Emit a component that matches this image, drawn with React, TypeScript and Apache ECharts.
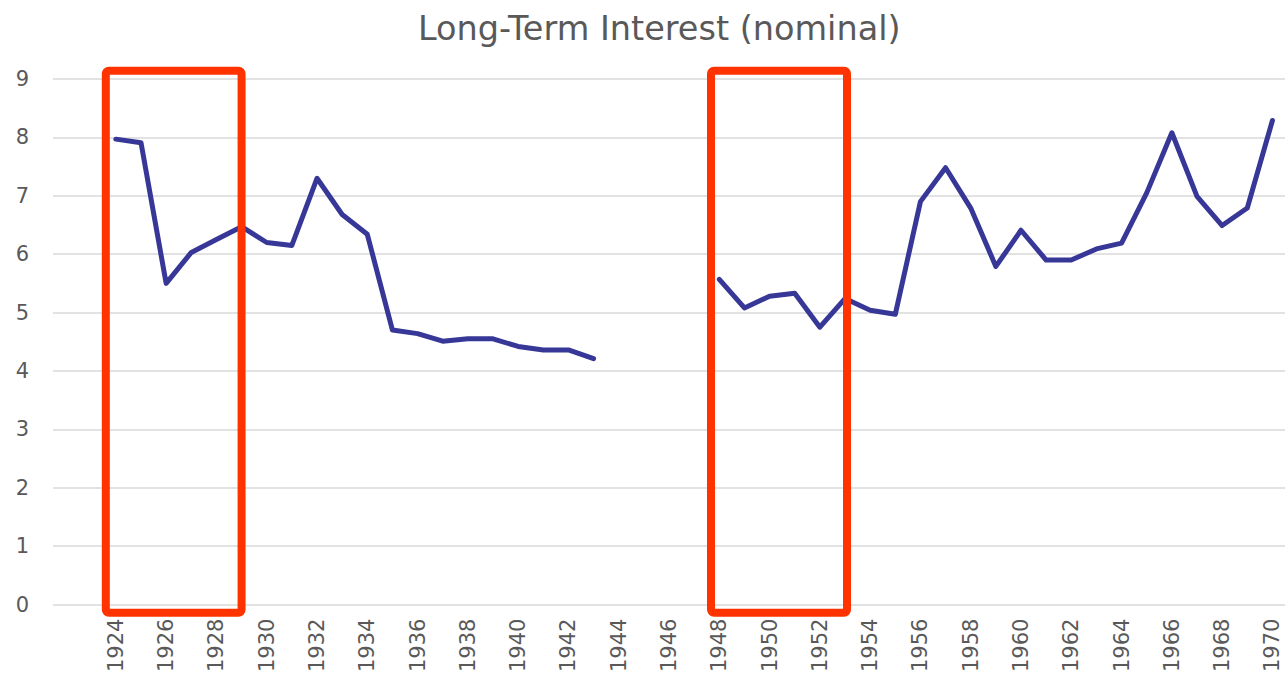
import React, { useEffect, useRef } from "react";
import * as echarts from "echarts";

const title = "Long-Term Interest (nominal)";

const years: number[] = [];
for (let y = 1924; y <= 1970; y++) years.push(y);

const rates: (number | null)[] = [
  7.97, 7.91, 5.5, 6.03, 6.25, 6.47, 6.2, 6.15, 7.3, 6.68, // 1924-1933
  6.34, 4.7, 4.64, 4.51, 4.55, 4.55, 4.42, 4.36, 4.36, 4.21, // 1934-1943
  null, null, null, null, // 1944-1947
  5.57, 5.08, 5.28, 5.33, 4.75, 5.24, 5.04, 4.97, 6.9, 7.48, // 1948-1957
  6.79, 5.79, 6.41, 5.9, 5.9, 6.09, 6.19, 7.05, 8.08, 6.99, // 1958-1967
  6.49, 6.79, 8.29, // 1968-1970
];

const xTickLabels: number[] = [];
for (let y = 1924; y <= 1970; y += 2) xTickLabels.push(y);

const yTicks = [0, 1, 2, 3, 4, 5, 6, 7, 8, 9];

// highlighted periods [fromYear, toYear], with vertical extent [low, high]
const highlightRanges: [number, number][] = [
  [1923.6, 1929.0],
  [1947.67, 1953.08],
];
const highlightY: [number, number] = [-0.14, 9.14];

export default function App() {
  const ref = useRef<HTMLDivElement>(null);
  useEffect(() => {
    if (!ref.current) return;
    const chart = echarts.init(ref.current, undefined, { renderer: "svg" });
    const font = "'DejaVu Sans', Verdana, sans-serif";
    chart.setOption({
      animation: false,
      backgroundColor: "#ffffff",
      title: {
        text: title,
        left: 413,
        top: 6,
        textStyle: {
          fontFamily: font,
          fontSize: 33.5,
          fontWeight: "normal",
          color: "#595959",
        },
      },
      grid: { left: 53, right: 0, top: 79, bottom: 69, containLabel: false },
      xAxis: {
        type: "value",
        min: 1921.5,
        max: 1970.5,
        axisLine: { show: false },
        axisTick: { show: false },
        splitLine: { show: false },
        axisLabel: {
          customValues: xTickLabels,
          rotate: 90,
          margin: 14,
          fontFamily: font,
          fontSize: 21,
          color: "#595959",
          formatter: (v: number) => String(v),
        },
      },
      yAxis: {
        type: "value",
        min: yTicks[0],
        max: yTicks[yTicks.length - 1],
        interval: 1,
        axisLine: { show: false },
        axisTick: { show: false },
        splitLine: { lineStyle: { color: "#d9d9d9", width: 1.5 } },
        axisLabel: {
          margin: 24,
          fontFamily: font,
          fontSize: 21,
          color: "#595959",
        },
      },
      series: [
        {
          type: "line",
          data: years.map((y, i) => [y, rates[i] === null ? "-" : rates[i]]),
          showSymbol: false,
          connectNulls: false,
          lineStyle: { color: "#373797", width: 5, cap: "round", join: "round" },
          itemStyle: { color: "#373797" },
          clip: false,
        },
      ],
    });
    const rects = highlightRanges.map(([x0, x1]) => {
      const p0 = chart.convertToPixel({ gridIndex: 0 }, [x0, highlightY[1]]) as number[];
      const p1 = chart.convertToPixel({ gridIndex: 0 }, [x1, highlightY[0]]) as number[];
      return {
        type: "rect",
        shape: { x: p0[0], y: p0[1], width: p1[0] - p0[0], height: p1[1] - p0[1], r: 3 },
        style: { fill: "none", stroke: "#ff3300", lineWidth: 8 },
        z: 10,
        silent: true,
      };
    });
    chart.setOption({ graphic: rects });
    return () => chart.dispose();
  }, []);
  return (
    <div
      ref={ref}
      style={{ position: "absolute", left: 0, top: 0, width: 1285, height: 675 }}
    />
  );
}
